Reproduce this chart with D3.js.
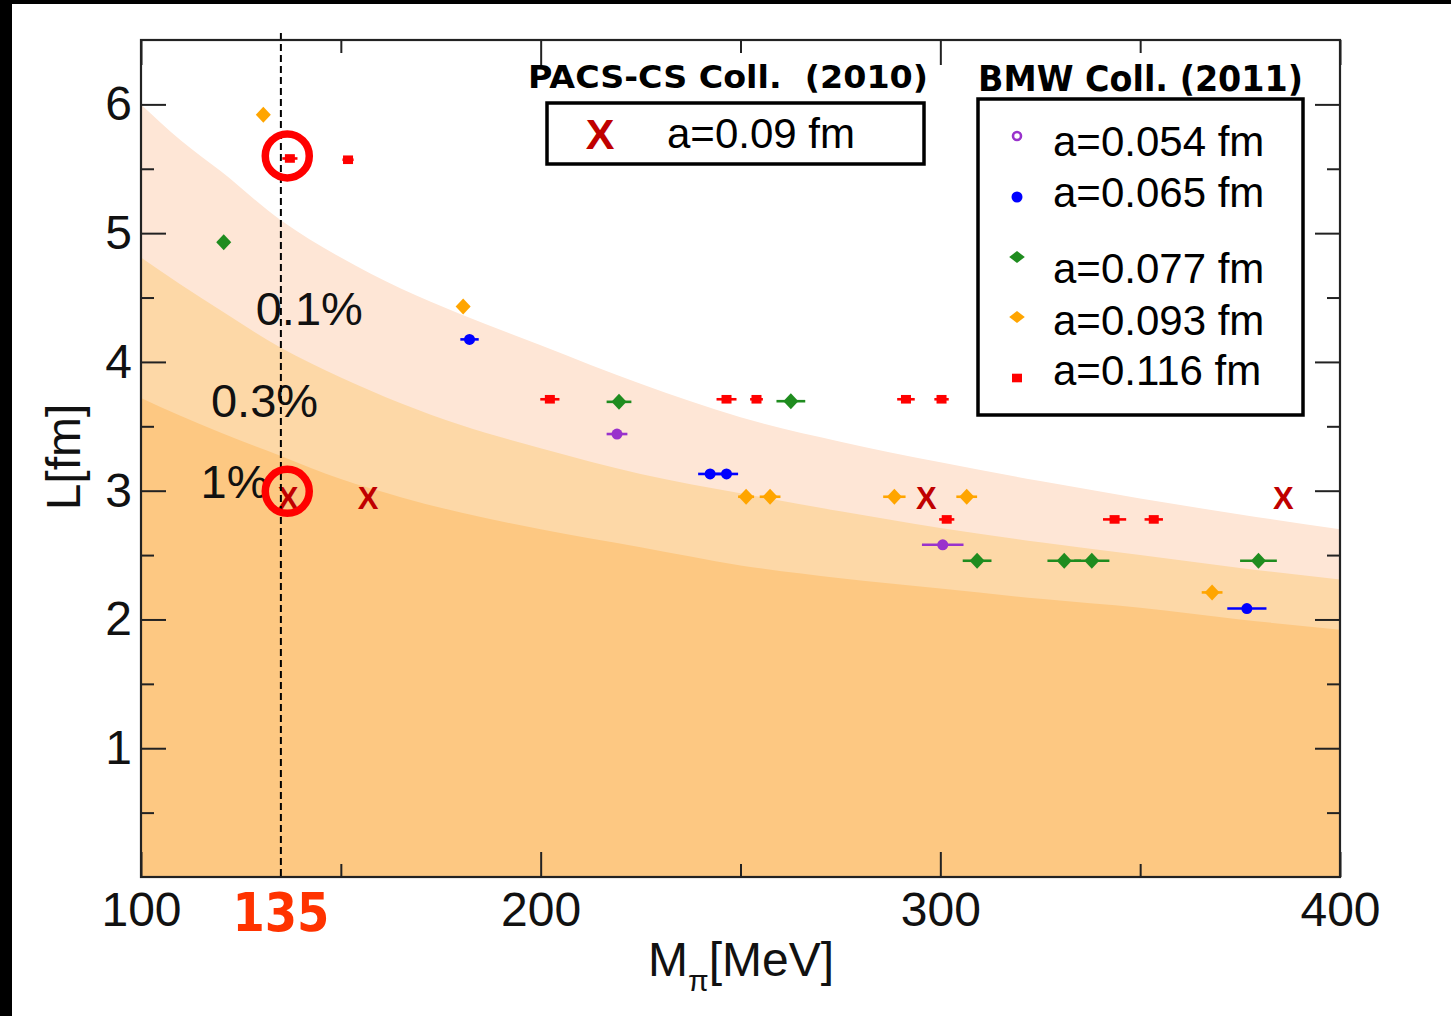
<!DOCTYPE html>
<html>
<head>
<meta charset="utf-8">
<script src="https://cdn.jsdelivr.net/npm/d3@7"></script>
<style>
  html, body { margin: 0; padding: 0; background: #fff; }
  svg { display: block; }
  text { font-family: "Liberation Sans", Arial, sans-serif; }
  .bold { font-family: "DejaVu Sans", Verdana, sans-serif; font-weight: bold; }
</style>
</head>
<body>
<svg id="chart" width="1451" height="1016"></svg>
<script>
// ---- data -------------------------------------------------------------
const xTickValues = [100, 200, 300, 400];
const xMinorTicks = [150, 250, 350];
const yTickValues = [1, 2, 3, 4, 5, 6];
const yMinorTicks = [0.5, 1.5, 2.5, 3.5, 4.5, 5.5];

// finite-volume contours: pion mass [MeV] vs box size [fm]
const bandMpi = [100, 110, 120, 135, 150, 165, 180, 200, 225, 250, 275, 300, 325, 350, 375, 400];
const band01  = [6.00, 5.72, 5.48, 5.10, 4.81, 4.57, 4.37, 4.13, 3.83, 3.57, 3.38, 3.22, 3.075, 2.94, 2.815, 2.70];
const band03  = [4.81, 4.60, 4.40, 4.11, 3.88, 3.68, 3.51, 3.33, 3.13, 2.98, 2.84, 2.71, 2.60, 2.50, 2.40, 2.31];
const band1   = [3.72, 3.58, 3.45, 3.27, 3.09, 2.95, 2.83, 2.70, 2.56, 2.42, 2.32, 2.24, 2.16, 2.09, 2.00, 1.92];
const bandNames = ["0.1%", "0.3%", "1%"];

// BMW ensembles: [M_pi, L, horizontal error on M_pi]
const bmwLabels = ["a=0.054 fm", "a=0.065 fm", "a=0.077 fm", "a=0.093 fm", "a=0.116 fm"];
const bmw054 = [[219.1, 3.44, 2.6], [300.6, 2.58, 5.2]];
const bmw065 = [[182.2, 4.175, 2.3], [242.4, 3.13, 3.0], [246.5, 3.13, 2.9], [376.7, 2.085, 4.9]];
const bmw077 = [[120.7, 4.93, 1.5], [219.6, 3.69, 3.1], [262.6, 3.695, 3.6], [309.2, 2.456, 3.6],
                [331.0, 2.456, 4.2], [337.9, 2.456, 4.4], [379.6, 2.456, 4.6]];
const bmw093 = [[130.6, 5.92, 1.2], [180.6, 4.43, 1.5], [251.4, 2.953, 2.0], [257.4, 2.953, 2.6],
                [288.5, 2.953, 2.8], [306.6, 2.953, 2.6], [368.0, 2.21, 2.6]];
const bmw116 = [[137.25, 5.58, 1.9], [151.8, 5.57, 1.4], [202.3, 3.71, 2.4], [246.5, 3.71, 2.5],
                [254.0, 3.71, 1.6], [291.4, 3.71, 2.2], [300.3, 3.71, 1.8], [301.6, 2.777, 1.9],
                [343.6, 2.777, 2.9], [353.4, 2.777, 2.3]];

// PACS-CS ensembles
const pacsLabel = "a=0.09 fm";
const pacsPoints = [[136.8, 2.946], [156.8, 2.946], [296.5, 2.946], [385.8, 2.946]];

const physicalMpi = 135;
const highlighted = [[136.6, 5.60], [136.6, 2.995]];

const bmwTitle = "BMW Coll. (2011)";
const pacsTitle = "PACS-CS Coll.  (2010)";
const xTitle = ["M", "\u03c0", "[MeV]"];
const yTitle = "L[fm]";

// ---- layout -----------------------------------------------------------
const svg = d3.select("#chart");
const W = 1451, H = 1016;
const plot = { left: 141, right: 1340, top: 40, bottom: 877 };

const x = d3.scaleLinear().domain([100, 400]).range([plot.left, plot.right]);
const y = d3.scaleLinear().domain([0, 6.5]).range([plot.bottom, plot.top]);

svg.append("rect").attr("width", W).attr("height", H).attr("fill", "#fff");
svg.append("rect").attr("x", 0).attr("y", 0).attr("width", W).attr("height", 4).attr("fill", "#000");
svg.append("rect").attr("x", 0).attr("y", 0).attr("width", 12).attr("height", H).attr("fill", "#000");

svg.append("clipPath").attr("id", "plotclip")
  .append("rect").attr("x", plot.left).attr("y", plot.top)
  .attr("width", plot.right - plot.left).attr("height", plot.bottom - plot.top);

const gPlot = svg.append("g").attr("clip-path", "url(#plotclip)");

// ---- shaded finite-volume bands ---------------------------------------
const bandColors = ["#fee6d6", "#fdd8a7", "#fdc882"];
const area = d3.area()
  .x(d => x(d[0]))
  .y0(y(0))
  .y1(d => y(d[1]))
  .curve(d3.curveMonotoneX);
[band01, band03, band1].forEach((b, i) => {
  gPlot.append("path")
    .datum(bandMpi.map((m, j) => [m, b[j]]))
    .attr("d", area)
    .attr("fill", bandColors[i]);
});

// band labels
const bandLabelPos = [[128.7, 4.29], [117.5, 3.57], [114.9, 2.94]];
bandNames.forEach((t, i) => {
  svg.append("text")
    .attr("x", x(bandLabelPos[i][0]))
    .attr("y", y(bandLabelPos[i][1]))
    .attr("font-size", 47)
    .attr("fill", "#111")
    .text(t);
});

// ---- markers ----------------------------------------------------------
function diamondPath(hw, hh) {
  return `M0,${-hh}L${hw},0L0,${hh}L${-hw},0Z`;
}
const series = [
  { data: bmw054, color: "#9932cc", shape: "circle" },
  { data: bmw065, color: "#0000ff", shape: "circle" },
  { data: bmw077, color: "#1f8c1f", shape: "diamond" },
  { data: bmw093, color: "#ffa500", shape: "diamond" },
  { data: bmw116, color: "#ff0000", shape: "square" }
];

function drawMarker(g, shape, color, cx, cy, legend) {
  if (shape === "circle") {
    g.append("circle").attr("cx", cx).attr("cy", cy).attr("r", 5.5).attr("fill", color);
  } else if (shape === "ring") {
    g.append("circle").attr("cx", cx).attr("cy", cy).attr("r", 4)
      .attr("fill", "#fff").attr("stroke", color).attr("stroke-width", 2.6);
  } else if (shape === "diamond") {
    g.append("path").attr("transform", `translate(${cx},${cy})`)
      .attr("d", legend ? diamondPath(7.8, 6) : diamondPath(7.5, 8)).attr("fill", color);
  } else {
    g.append("rect").attr("x", cx - 5).attr("y", cy - 4.3)
      .attr("width", 10).attr("height", 8.6).attr("fill", color);
  }
}

const gData = svg.append("g");
series.forEach(s => {
  s.data.forEach(d => {
    gData.append("line")
      .attr("x1", x(d[0] - d[2])).attr("x2", x(d[0] + d[2]))
      .attr("y1", y(d[1])).attr("y2", y(d[1]))
      .attr("stroke", s.color).attr("stroke-width", 2.6);
  });
});
series.forEach(s => {
  s.data.forEach(d => drawMarker(gData, s.shape, s.color, x(d[0]), y(d[1]), false));
});

// PACS-CS crosses
pacsPoints.forEach(p => {
  svg.append("text")
    .attr("x", x(p[0])).attr("y", y(p[1]) + 11)
    .attr("text-anchor", "middle")
    .attr("font-size", 31).attr("font-weight", "bold")
    .attr("fill", "#c00000")
    .text("X");
});

// physical pion mass
svg.append("line")
  .attr("x1", x(physicalMpi)).attr("x2", x(physicalMpi))
  .attr("y1", 33).attr("y2", plot.bottom)
  .attr("stroke", "#000").attr("stroke-width", 2)
  .attr("stroke-dasharray", "7,4");

highlighted.forEach(h => {
  svg.append("circle")
    .attr("cx", x(h[0])).attr("cy", y(h[1])).attr("r", 22)
    .attr("fill", "none").attr("stroke", "#ff0000").attr("stroke-width", 7.5);
});

// ---- axes and frame ---------------------------------------------------
function styleAxis(g) {
  g.select(".domain").remove();
  g.selectAll(".tick line").attr("stroke", "#222").attr("stroke-width", 2);
  g.selectAll(".tick text").attr("font-size", 48).attr("fill", "#111")
    .attr("font-family", "'Liberation Sans', Arial, sans-serif");
}
svg.append("g").attr("transform", `translate(0,${plot.bottom})`)
  .call(d3.axisBottom(x).tickValues(xTickValues).tickSize(-25).tickPadding(15).tickFormat(d3.format("d")))
  .call(styleAxis);
svg.append("g").attr("transform", `translate(0,${plot.bottom})`)
  .call(d3.axisBottom(x).tickValues(xMinorTicks).tickSize(-13).tickFormat(""))
  .call(styleAxis);
svg.append("g").attr("transform", `translate(0,${plot.top})`)
  .call(d3.axisTop(x).tickValues(xTickValues).tickSize(-25).tickFormat(""))
  .call(styleAxis);
svg.append("g").attr("transform", `translate(0,${plot.top})`)
  .call(d3.axisTop(x).tickValues(xMinorTicks).tickSize(-13).tickFormat(""))
  .call(styleAxis);
svg.append("g").attr("transform", `translate(${plot.left},0)`)
  .call(d3.axisLeft(y).tickValues(yTickValues).tickSize(-25).tickPadding(9).tickFormat(d3.format("d")))
  .call(styleAxis);
svg.append("g").attr("transform", `translate(${plot.left},0)`)
  .call(d3.axisLeft(y).tickValues(yMinorTicks).tickSize(-13).tickFormat(""))
  .call(styleAxis);
svg.append("g").attr("transform", `translate(${plot.right},0)`)
  .call(d3.axisRight(y).tickValues(yTickValues).tickSize(-25).tickFormat(""))
  .call(styleAxis);
svg.append("g").attr("transform", `translate(${plot.right},0)`)
  .call(d3.axisRight(y).tickValues(yMinorTicks).tickSize(-13).tickFormat(""))
  .call(styleAxis);

svg.append("rect")
  .attr("x", plot.left).attr("y", plot.top)
  .attr("width", plot.right - plot.left).attr("height", plot.bottom - plot.top)
  .attr("fill", "none").attr("stroke", "#222").attr("stroke-width", 2.2);

// axis titles
const xt = svg.append("text").attr("x", 648).attr("y", 976).attr("font-size", 48).attr("fill", "#111");
xt.append("tspan").text(xTitle[0]);
xt.append("tspan").attr("font-size", 30).attr("dy", 15).text(xTitle[1]);
xt.append("tspan").attr("dy", -15).text(xTitle[2]);

svg.append("text")
  .attr("transform", "translate(80,457) rotate(-90)")
  .attr("text-anchor", "middle").attr("font-size", 48).attr("fill", "#111")
  .text(yTitle);

// physical point label
svg.append("text")
  .attr("class", "bold")
  .attr("x", x(physicalMpi)).attr("y", 931)
  .attr("text-anchor", "middle")
  .attr("font-size", 53).attr("fill", "#ff3300")
  .attr("textLength", 97).attr("lengthAdjust", "spacingAndGlyphs")
  .text(physicalMpi);

// ---- PACS-CS legend ---------------------------------------------------
svg.append("text").attr("class", "bold")
  .attr("x", 528).attr("y", 88).attr("font-size", 32).attr("fill", "#000")
  .style("white-space", "pre")
  .attr("textLength", 400).attr("lengthAdjust", "spacingAndGlyphs")
  .text(pacsTitle);
svg.append("rect").attr("x", 547).attr("y", 103).attr("width", 377).attr("height", 61)
  .attr("fill", "#fff").attr("stroke", "#000").attr("stroke-width", 3.5);
svg.append("text").attr("x", 600).attr("y", 149).attr("text-anchor", "middle")
  .attr("font-size", 43).attr("font-weight", "bold").attr("fill", "#c00000").text("X");
svg.append("text").attr("x", 667).attr("y", 148).attr("font-size", 42).attr("fill", "#000").text(pacsLabel);

// ---- BMW legend -------------------------------------------------------
svg.append("rect").attr("x", 978).attr("y", 99).attr("width", 325).attr("height", 316)
  .attr("fill", "#fff").attr("stroke", "#000").attr("stroke-width", 3.5);
svg.append("text").attr("class", "bold")
  .attr("x", 978).attr("y", 91).attr("font-size", 35).attr("fill", "#000")
  .attr("textLength", 325).attr("lengthAdjust", "spacingAndGlyphs")
  .text(bmwTitle);

const legendMarkerY = [136, 197, 257, 317, 378];
const legendTextY = [156, 207, 283, 335, 385];
const legendShapes = ["ring", "circle", "diamond", "diamond", "square"];
const gLeg = svg.append("g");
bmwLabels.forEach((t, i) => {
  drawMarker(gLeg, legendShapes[i], series[i].color, 1017, legendMarkerY[i], true);
  gLeg.append("text").attr("x", 1053).attr("y", legendTextY[i])
    .attr("font-size", 42).attr("fill", "#000").text(t);
});
</script>
</body>
</html>
